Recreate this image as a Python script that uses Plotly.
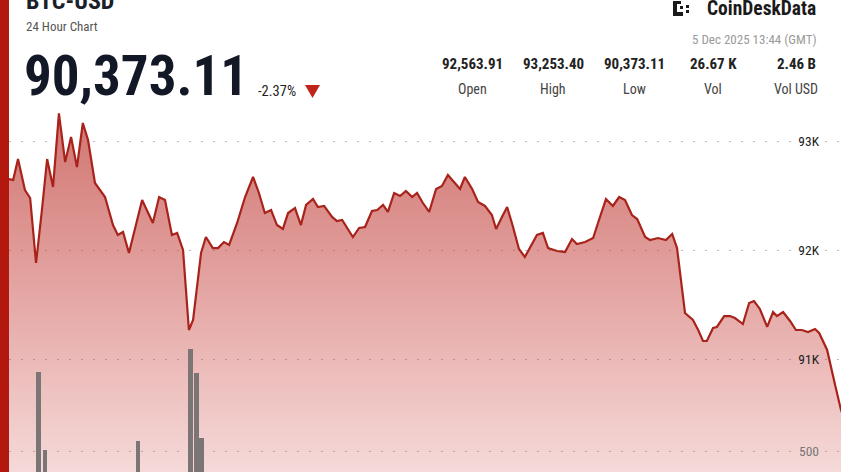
import plotly.graph_objects as go

# ---------------- data ----------------
hours = [0.00, 0.12, 0.26, 0.46, 0.61, 0.78, 0.95, 1.10, 1.27, 1.44, 1.62, 1.79, 1.96, 2.13, 2.28,
         2.48, 2.77, 3.00, 3.14, 3.29, 3.46, 3.84, 4.15, 4.33, 4.50, 4.70, 4.85, 5.02, 5.19, 5.31,
         5.54, 5.68, 5.88, 6.03, 6.20, 6.35, 6.58, 6.81, 7.04, 7.21, 7.38, 7.56, 7.73, 7.90, 8.05,
         8.25, 8.42, 8.57, 8.77, 8.91, 9.09, 9.32, 9.46, 9.61, 9.92, 10.10, 10.27, 10.47, 10.62,
         10.79, 10.93, 11.11, 11.28, 11.45, 11.63, 11.77, 11.94, 12.12, 12.32, 12.49, 12.66, 12.81,
         13.01, 13.15, 13.36, 13.53, 13.73, 13.93, 14.05, 14.22, 14.37, 14.54, 14.71, 14.88, 15.06,
         15.23, 15.40, 15.55, 15.81, 16.04, 16.24, 16.38, 16.62, 16.85, 16.99, 17.22, 17.42, 17.60,
         17.77, 17.97, 18.12, 18.35, 18.49, 18.72, 18.95, 19.13, 19.27, 19.50, 19.73, 19.88, 20.02,
         20.13, 20.31, 20.42, 20.63, 20.80, 20.94, 21.17, 21.35, 21.49, 21.66, 21.87, 22.04, 22.15,
         22.33, 22.53, 22.70, 22.87, 23.05, 23.25, 23.37, 23.60, 23.83, 24.00, 24.20]
price = [92650, 92642, 92835, 92550, 92477, 91881, 92367, 92835, 92578, 93253, 92807, 93037, 92761,
         93165, 93009, 92615, 92486, 92229, 92138, 92165, 91972, 92459, 92248, 92486, 92459, 92138,
         92156, 92000, 91266, 91358, 91972, 92119, 92018, 92018, 92073, 92046, 92248, 92486, 92670,
         92523, 92339, 92367, 92229, 92193, 92339, 92385, 92229, 92413, 92468, 92394, 92404, 92303,
         92266, 92275, 92119, 92202, 92211, 92358, 92367, 92413, 92349, 92523, 92495, 92541, 92486,
         92523, 92431, 92349, 92560, 92587, 92688, 92633, 92560, 92670, 92560, 92440, 92404, 92321,
         92193, 92303, 92394, 92211, 92009, 91936, 92046, 92138, 92156, 92018, 91991, 91982, 92101,
         92055, 92073, 92110, 92248, 92468, 92404, 92486, 92459, 92321, 92284, 92119, 92092, 92110,
         92092, 92147, 92018, 91422, 91358, 91266, 91165, 91165, 91284, 91294, 91394, 91394, 91376,
         91321, 91514, 91532, 91459, 91294, 91431, 91394, 91431, 91349, 91266, 91266, 91248, 91275,
         91239, 91083, 90761, 90532, 90373]

vol_hours = [0.85, 1.04, 3.72, 5.24, 5.41, 5.55]
volume = [929, 505, 554, 1054, 924, 571]

price_ticks = [91000, 92000, 93000]
price_tick_text = ["91K", "92K", "93K"]
vol_ticks = [500]
vol_tick_text = ["500"]

title = "BTC-USD"
subtitle = "24 Hour Chart"
last_price = "90,373.11"
change = "-2.37%"
brand = "CoinDeskData"
stamp = "5 Dec 2025 13:44 (GMT)"
stat_values = ["92,563.91", "93,253.40", "90,373.11", "26.67 K", "2.46 B"]
stat_labels = ["Open", "High", "Low", "Vol", "Vol USD"]

# ---------------- layout helpers ----------------
W, H = 841, 472
PL, PT = 9, 105
PW, PH = W - PL, H - PT
FONT = "Roboto Condensed, Roboto, Arial, sans-serif"


def px(x):
    return (x - PL) / PW


def py(y):
    return (H - y) / PH


fig = go.Figure()

fig.add_trace(go.Scatter(
    x=hours, y=price, mode="lines", yaxis="y",
    line=dict(color="#a8231b", width=2.2),
    fill="tozeroy",
    fillgradient=dict(type="vertical", start=89963, stop=93330,
                      colorscale=[[0, "rgba(205,70,65,0.20)"], [1, "rgba(195,80,75,0.80)"]]),
    hoverinfo="skip", showlegend=False,
))

fig.add_trace(go.Bar(
    x=vol_hours, y=volume, yaxis="y2", width=0.14,
    marker=dict(color="rgb(124,117,117)", line=dict(width=0)),
    hoverinfo="skip", showlegend=False,
))

ann = []


def text(x, y, s, size, color, bold=False, anchor="left"):
    ann.append(dict(x=px(x), y=py(y), xref="paper", yref="paper", text=(f"<b>{s}</b>" if bold else s),
                    showarrow=False, xanchor=anchor, yanchor="middle",
                    font=dict(family=FONT, size=size, color=color)))


text(24, 1, title, 24, "#1b1f2a", bold=True)
text(24, 27, subtitle, 13, "#555555")
text(22, 76.5, last_price, 55, "#131826", bold=True)
text(256, 91, change, 14.5, "#222222")
text(818, 9, brand, 19.5, "#1a1a1a", bold=True, anchor="right")
text(819, 39, stamp, 13, "#9a9a9a", anchor="right")
col_x = [472, 553, 634, 713, 796]
for cx, v, l in zip(col_x, stat_values, stat_labels):
    text(cx, 64, v, 15, "#222222", bold=True, anchor="center")
    text(cx, 89, l, 14, "#444444", anchor="center")

shapes = [
    # left red bar
    dict(type="rect", xref="paper", yref="paper", x0=px(-1), x1=px(9), y0=py(H + 5), y1=py(-5),
         fillcolor="#b3180f", line=dict(width=0), layer="above"),
    # down triangle
    dict(type="path", xref="paper", yref="paper",
         path=f"M {px(305)} {py(85)} L {px(320)} {py(85)} L {px(312.5)} {py(98)} Z",
         fillcolor="#c0251b", line=dict(width=0)),
]
# logo icon
for (x0, y0, x1, y1) in [(673, 1, 677, 16), (673, 1, 681, 4), (673, 12, 683, 16),
                         (686, 5, 689, 8), (686, 10, 689, 13), (680, 6, 683, 9)]:
    shapes.append(dict(type="rect", xref="paper", yref="paper", x0=px(x0), x1=px(x1),
                       y0=py(y1), y1=py(y0), fillcolor="#1a1a1a", line=dict(width=0)))

grid = dict(showgrid=True, gridcolor="#b9b9b9", gridwidth=1, griddash="2px,10px",
            zeroline=False, showline=False, ticks="")

fig.update_layout(
    width=W, height=H,
    margin=dict(l=PL, r=0, t=PT, b=0),
    paper_bgcolor="white", plot_bgcolor="white",
    xaxis=dict(range=[0, 24], visible=False, fixedrange=True),
    yaxis=dict(range=[89963.3, 93330.3], side="right", tickvals=price_ticks, ticktext=price_tick_text,
               ticklabelposition="inside", ticklabelstandoff=19, fixedrange=True,
               tickfont=dict(family=FONT, size=13.5, color="#222222"), **grid),
    yaxis2=dict(range=[385.9, 2380.4], overlaying="y", side="right", tickvals=vol_ticks,
                ticktext=vol_tick_text, ticklabelposition="inside", ticklabelstandoff=19, fixedrange=True,
                tickfont=dict(family=FONT, size=13.5, color="#777777"), **grid),
    bargap=0,
    annotations=ann,
    shapes=shapes,
    showlegend=False,
)

fig.write_html("out.html", config={"displayModeBar": False},
               post_script="document.body.style.margin='0px';")
